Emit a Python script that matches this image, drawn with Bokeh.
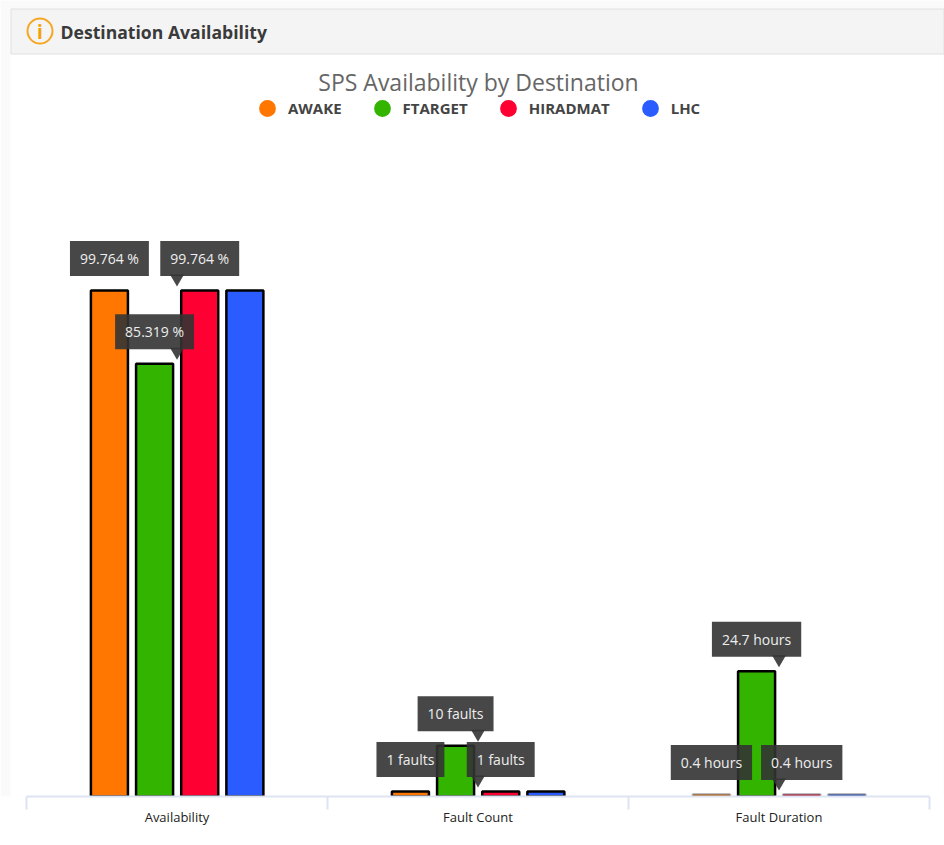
from bokeh.plotting import figure
from bokeh.embed import file_html
from bokeh.resources import INLINE
from bokeh.core.properties import value
from bokeh.models import (ColumnDataSource, Range1d, LinearAxis, FixedTicker,
                          Legend, LegendItem, Label, BoxAnnotation)
from bokeh.transform import dodge

categories = ["Availability", "Fault Count", "Fault Duration"]
series = ["AWAKE", "FTARGET", "HIRADMAT", "LHC"]
awake = [99.764, 1, 0.4]
ftarget = [85.319, 10, 24.7]
hiradmat = [99.764, 1, 0.4]
lhc = [99.764, 1, 0.4]
awake_tips = ["99.764 %", "1 faults", "0.4 hours"]
ftarget_tips = ["85.319 %", "10 faults", "24.7 hours"]
hiradmat_tips = ["99.764 %", "1 faults", "0.4 hours"]
lhc_tips = []
colors = ["#FF7700", "#33B500", "#FF0033", "#2A5CFF"]
values = [awake, ftarget, hiradmat, lhc]
tips = [awake_tips, ftarget_tips, hiradmat_tips, lhc_tips]
dodges = [-0.2245, -0.0745, 0.0755, 0.2255]

FONT = "Open Sans"
W, H = 944, 845
AXIS_LEFT, AXIS_RIGHT = 26, 929
FRAME_BOTTOM = 796
PX_PER_UNIT = 5.072
PX_PER_CAT = (AXIS_RIGHT - AXIS_LEFT) / len(categories)
y_end = FRAME_BOTTOM / PX_PER_UNIT
centres = [i + 0.5 for i in range(len(categories))]

# page pixels expressed in the plot's own scales
def dx(x): return (x - AXIS_LEFT) / PX_PER_CAT
def dy(y): return (FRAME_BOTTOM - y) / PX_PER_UNIT

p = figure(width=W, height=H, x_range=Range1d(dx(0), dx(W)),
           y_range=Range1d(0, y_end), output_backend="svg", toolbar_location=None,
           x_axis_location=None, y_axis_location=None,
           min_border_left=0, min_border_right=0, min_border_top=0,
           min_border_bottom=H - FRAME_BOTTOM)
p.grid.visible = False
p.outline_line_color = None
p.background_fill_color = "white"
p.border_fill_color = "white"

axis = LinearAxis(ticker=FixedTicker(ticks=centres, minor_ticks=list(range(len(categories) + 1))),
                  major_label_overrides=dict(zip(centres, categories)),
                  bounds=(0, len(categories)))
axis.axis_line_color = "#DDE4F2"
axis.axis_line_width = 2
axis.major_tick_line_color = None
axis.minor_tick_line_color = "#DDE4F2"
axis.minor_tick_line_width = 2
axis.minor_tick_out = 13
axis.minor_tick_in = 0
axis.major_label_standoff = -2
axis.major_label_text_font = FONT
axis.major_label_text_font_size = "13px"
axis.major_label_text_color = "#222222"
p.add_layout(axis, "below")

# panel chrome
p.add_layout(BoxAnnotation(left=dx(0), right=dx(10), top=dy(0), bottom=0,
                           fill_color="#FAFAFA", fill_alpha=1, line_color=None, level="underlay"))
p.add_layout(BoxAnnotation(left=dx(943), right=dx(W), top=dy(0), bottom=0,
                           fill_color="#FAFAFA", fill_alpha=1, line_color=None, level="underlay"))
p.add_layout(BoxAnnotation(left=dx(0), right=dx(W), top=dy(0), bottom=dy(8),
                           fill_color="#FAFAFA", fill_alpha=1, line_color=None, level="underlay"))
p.add_layout(BoxAnnotation(left=dx(10.5), right=dx(943.5), top=dy(8.5), bottom=dy(53.5),
                           fill_color="#F4F4F4", fill_alpha=1,
                           line_color="#E0E0E0", line_alpha=1, line_width=1, level="underlay"))
p.add_layout(BoxAnnotation(left=dx(27), right=dx(52), top=dy(18), bottom=dy(43),
                           fill_alpha=0, line_color="#F5A623", line_alpha=1, line_width=2,
                           border_radius=13))
p.add_layout(Label(x=dx(39.5), y=dy(31), text="i",
                   text_align="center", text_baseline="middle", text_font=FONT,
                   text_font_style="bold", text_font_size="19px", text_color="#F5A000"))
p.add_layout(Label(x=dx(60), y=dy(31),
                   text="Destination Availability", text_align="left", text_baseline="middle",
                   text_font=FONT, text_font_style="bold", text_font_size="17.6px", text_color="#3A3A3A"))
p.add_layout(Label(x=dx(478), y=dy(81),
                   text="SPS Availability by Destination", text_align="center", text_baseline="middle",
                   text_font=FONT, text_font_size="23px", text_color="#666666"))

# bars
for s, vals, col, off in zip(series, values, colors, dodges):
    src = ColumnDataSource(dict(pos=centres, v=vals,
                                la=[1.0 if v >= 1 else 0.35 for v in vals]))
    p.vbar(x=dodge("pos", off), top="v", bottom=0, width=0.123, source=src,
           fill_color=col, line_color="black", line_width=2.5, line_alpha="la")

# tooltip notches point at the category centre
seen = set()
for vals, tp in zip(values, tips):
    for c, v, t in zip(centres, vals, tp):
        if (c, v) not in seen:
            seen.add((c, v))
            p.scatter([c], [v + 12 / PX_PER_UNIT], marker="inverted_triangle", size=14,
                      fill_color="#333333", fill_alpha=0.9, line_color=None)

# tooltips
for vals, tp, off in zip(values, tips, dodges):
    if tp:
        src = ColumnDataSource(dict(pos=centres, v=vals, t=tp))
        p.text(x=dodge("pos", off), y="v", text="t", source=src,
               y_offset=-32, text_align="center", text_baseline="middle",
               text_font=value(FONT), text_font_size="14px", text_color="#EEEEEE",
               background_fill_color="#333333", background_fill_alpha=0.9, padding=[10, 8])

# legend
items = []
for s, col in zip(series, colors):
    r = p.scatter(x=[float("nan")], y=[float("nan")], marker="circle", fill_color=col, line_color=None)
    items.append(LegendItem(label=s, renderers=[r]))
legend = Legend(items=items, orientation="horizontal", location=(246, 667),
                glyph_width=42, glyph_height=42, label_standoff=-5, spacing=19,
                label_text_font=FONT, label_text_font_style="bold", label_text_font_size="15px",
                label_text_color="#444444", background_fill_alpha=0, border_line_color=None,
                padding=0, margin=0)
p.add_layout(legend, "center")

open("out.html", "w").write(file_html(p, INLINE))
